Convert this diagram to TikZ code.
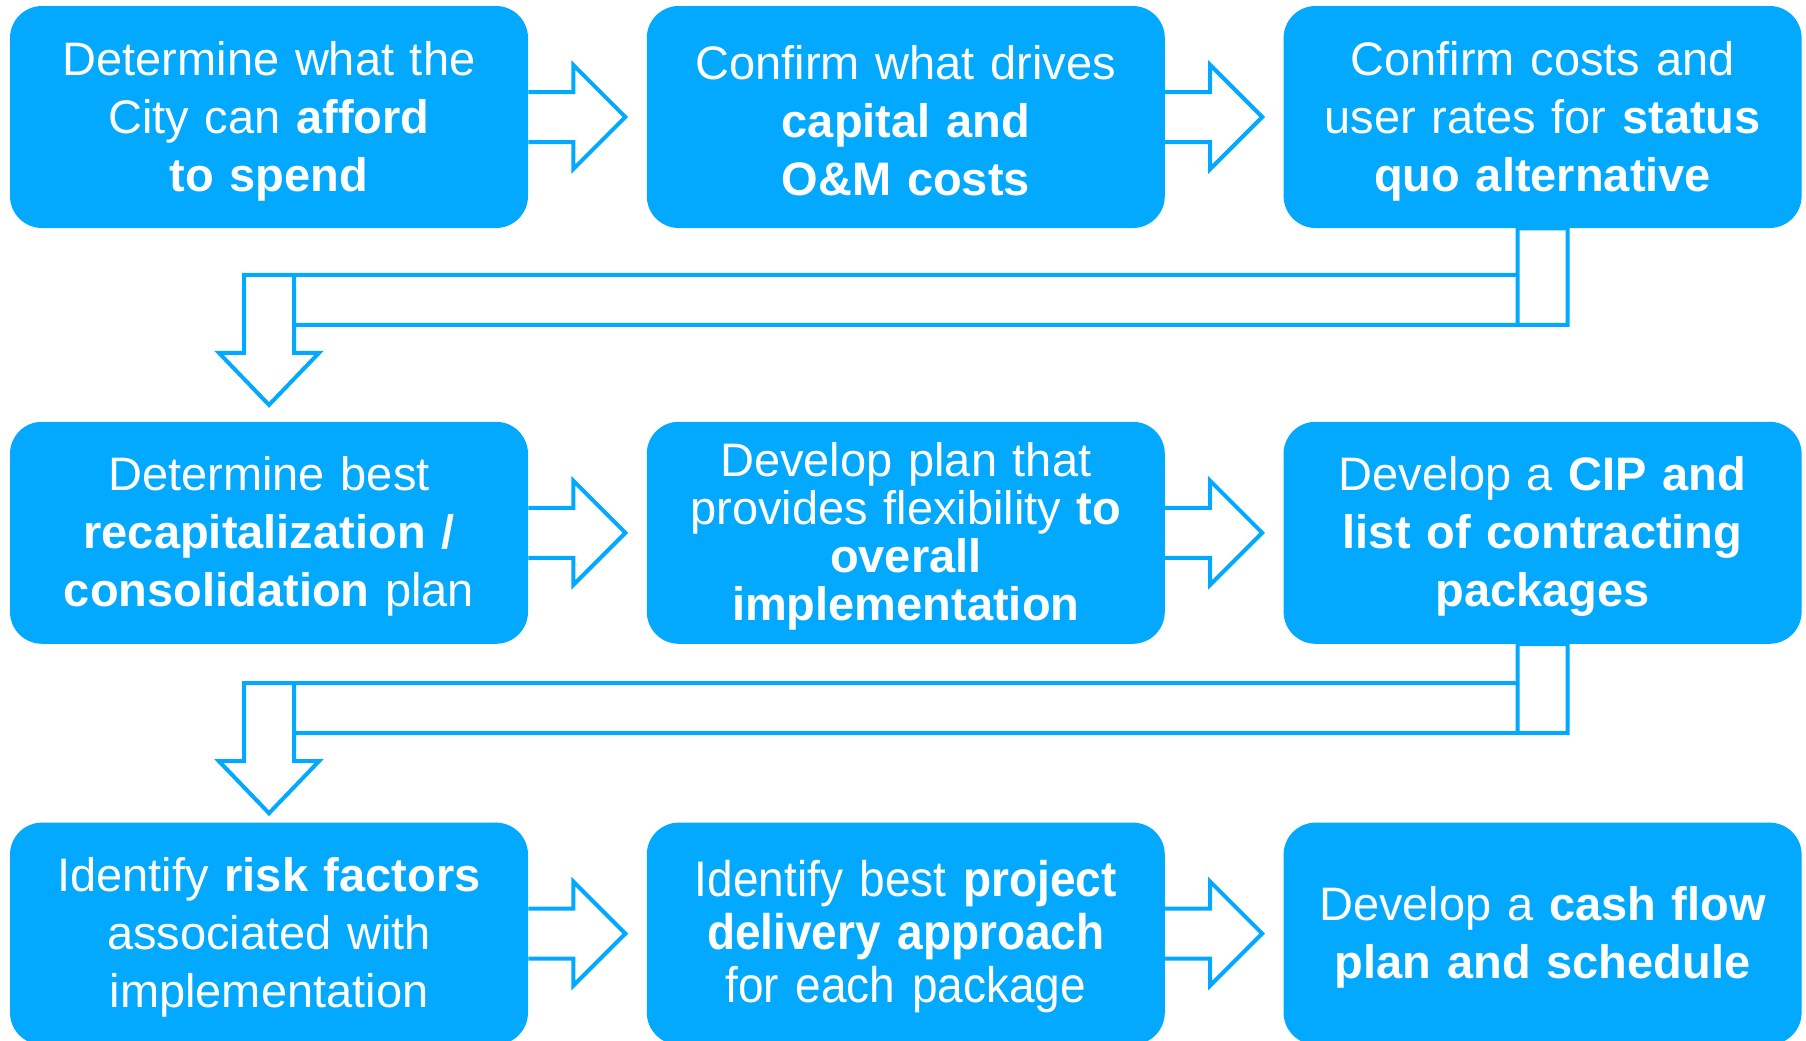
\documentclass[tikz,border=0pt]{standalone}
\usepackage{fontspec}
\setmainfont{Liberation Sans}
\newfontfamily\narrowfont{Liberation Sans}[FakeStretch=0.92]
\usepackage{xcolor}
\usetikzlibrary{positioning,calc}
\definecolor{stepblue}{RGB}{2,169,255}
\tikzstyle{block} = [rectangle, fill=stepblue, text=white, text width=250pt, align=center,
rounded corners=16pt, minimum width=259pt, minimum height=111pt, inner sep=0pt,
font=\fontsize{23.5}{29}\selectfont, execute at begin node={\rule{0pt}{21pt}}]
\tikzstyle{band} = [draw=stepblue, line width=2pt]
\tikzstyle{fatright} = [band, to path={([yshift=12.5pt]\tikztostart.east) -- ++(22.5pt,0) -- ++(0,13.5pt)
  -- ++(26pt,-26pt) -- ++(-26pt,-26pt) -- ++(0,13.5pt) -- ++(-22.5pt,0)}]
\tikzstyle{fatturn} = [band, to path={let \p1=(\tikztostart.south), \p2=(\tikztotarget.north),
  \p3=($(\p1)!0.5!(\p2)$) in
  (\x1-12.5pt,\y1) rectangle (\x1+12.5pt,\y3)
  (\x2+12.5pt,\y3+25pt) rectangle (\x1-12.5pt,\y3)
  (\x2-12.5pt,\y3+25pt) -- (\x2+12.5pt,\y3+25pt) -- (\x2+12.5pt,\y3-14pt) -- (\x2+25pt,\y3-14pt)
  -- (\x2,\y3-40pt) -- (\x2-25pt,\y3-14pt) -- (\x2-12.5pt,\y3-14pt) -- cycle}]

\begin{document}
\begin{tikzpicture}[node distance = 59pt, auto]
  \useasboundingbox (0,0) rectangle (903pt,-520pt);

          % Place nodes
    \node [block] (afford) at (134.5pt,-58.5pt) {Determine what the\\ City can \textbf{afford}\\ \textbf{to spend}};
    \node [block, right=of afford] (drivers) {Confirm what drives\\ \textbf{capital and}\\ \textbf{O\&M costs}};
    \node [block, right=of drivers] (status) {Confirm costs and\\ user rates for \textbf{status}\\ \textbf{quo alternative}};
    \node [block, below=96.5pt of afford] (recap) {Determine best\\ \textbf{recapitalization /}\\ \textbf{consolidation} plan};
    \node [block, right=of recap, font=\fontsize{23.5}{24}\selectfont] (flex) {Develop plan that\\ provides flexibility \textbf{to}\\ \textbf{overall}\\ \textbf{implementation}};
    \node [block, right=of flex] (cip) {Develop a \textbf{CIP and}\\ \textbf{list of contracting}\\ \textbf{packages}};
    \node [block, below=89pt of recap] (risk) {Identify \textbf{risk factors}\\ associated with\\ implementation};
    \node [block, right=of risk, font=\narrowfont\fontsize{25}{26.5}\selectfont] (delivery) {Identify best \textbf{project}\\ \textbf{delivery approach}\\ for each package};
    \node [block, right=of delivery] (cash) {Develop a \textbf{cash flow}\\ \textbf{plan and schedule}};
    % edges
         \path [fatright] (afford) to (drivers);
         \path [fatright] (drivers) to (status);
         \path [fatturn] (status) to (recap);
         \path [fatright] (recap) to (flex);
         \path [fatright] (flex) to (cip);
         \path [fatturn] (cip) to (risk);
         \path [fatright] (risk) to (delivery);
         \path [fatright] (delivery) to (cash);
  \end{tikzpicture}
\end{document}
